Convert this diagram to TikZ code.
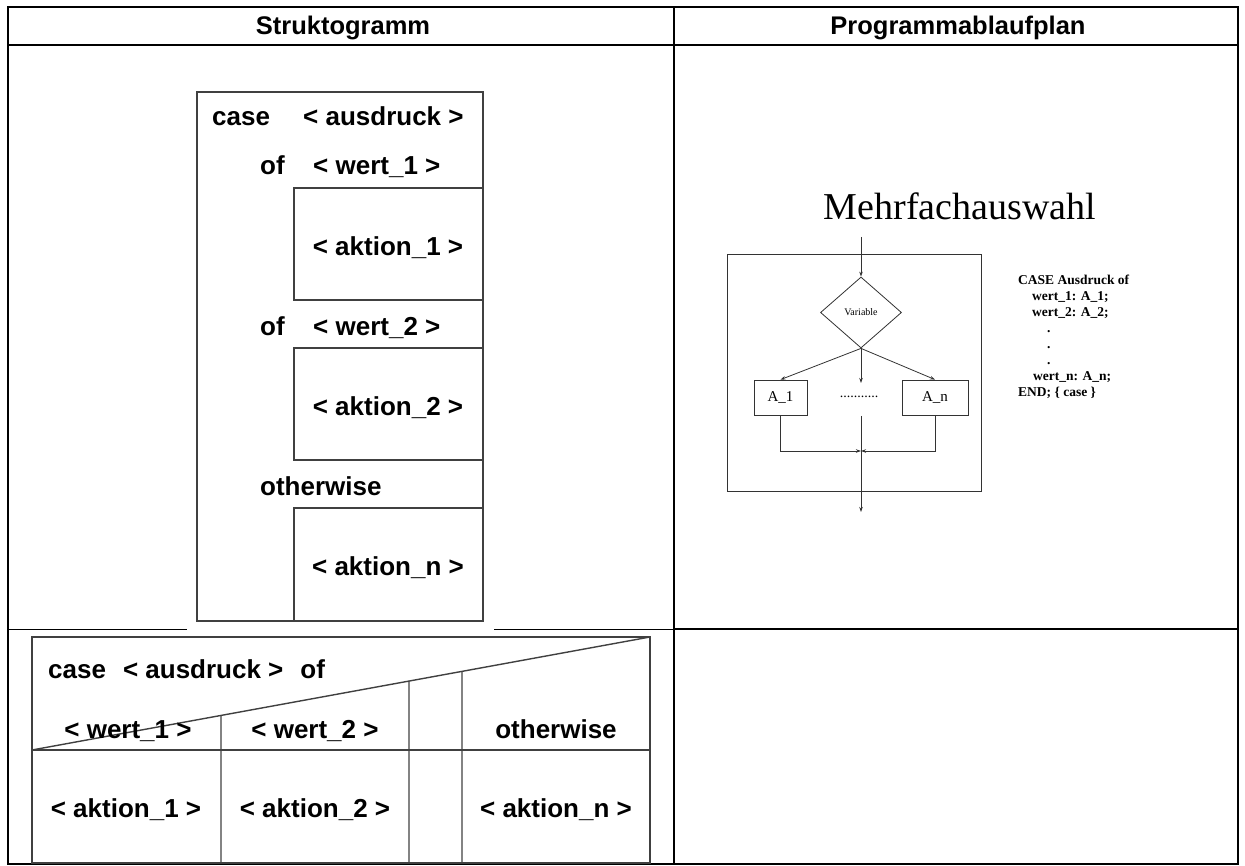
\documentclass[tikz,border=0pt]{standalone}
\usepackage{fontspec}
\setmainfont{Liberation Serif}
\newfontfamily\arialfont{Liberation Sans}
\usetikzlibrary{shapes.geometric,arrows.meta,calc}

\begin{document}
\begin{tikzpicture}[x=1pt,y=-1pt,
  tableline/.style={line width=2pt,line cap=rect},
  thinrule/.style={line width=1pt},
  nsbox/.style={line width=1.4pt,draw=black!75},
  nstext/.style={font=\arialfont\bfseries\fontsize{26}{30}\selectfont,inner sep=0pt},
  hdr/.style={font=\arialfont\bfseries\fontsize{25.5}{28}\selectfont,inner sep=0pt,anchor=base},
  papline/.style={draw=black!80,line width=0.8pt},
  arr/.style={-{Stealth[length=5pt,width=3.5pt]}},
  papbox/.style={draw=black!80,line width=0.8pt,rectangle,inner sep=0pt,
                 font=\fontsize{15}{17}\selectfont},
  codeline/.style={font=\bfseries\fontsize{13.5}{16}\selectfont,anchor=base west,inner sep=0pt}]
\useasboundingbox (0,0) rectangle (1245,866);

% ---------- table frame ----------
\draw[tableline] (7.5,7.5) rectangle (1238,864);
\draw[tableline] (7.5,45.5) -- (1238,45.5);
\draw[tableline] (674,7.5) -- (674,864);
\draw[thinrule] (7.5,629) -- (187,629);
\draw[thinrule] (494,629) -- (674,629);
\draw[tableline] (674,629) -- (1238,629);

\node[hdr] (h1) at (343,35) {Struktogramm};
\node[hdr] (h2) at (958,35) {Programmablaufplan};

% ---------- Struktogramm, vertical form ----------
\draw[nsbox] (197,92) rectangle (483,621);
\draw[nsbox] (294,188) rectangle (483,300);
\draw[nsbox] (294,348) rectangle (483,460);
\draw[nsbox] (294,508) rectangle (483,621);

\node[nstext,anchor=base west] (v1) at (212,126) {case};
\node[nstext,anchor=base west] (v2) at (303,126) {< ausdruck >};
\node[nstext,anchor=base west] (v3) at (260,175) {of};
\node[nstext,anchor=base west] (v4) at (313,175) {< wert\_1 >};
\node[nstext,anchor=base] (v5) at (388,256) {< aktion\_1 >};
\node[nstext,anchor=base west] (v6) at (260,336) {of};
\node[nstext,anchor=base west] (v7) at (313,336) {< wert\_2 >};
\node[nstext,anchor=base] (v8) at (388,416) {< aktion\_2 >};
\node[nstext,anchor=base west] (v9) at (260,495) {otherwise};
\node[nstext,anchor=base] (v10) at (388,575) {< aktion\_n >};

% ---------- Struktogramm, horizontal form ----------
\coordinate (dA) at (32,750);
\coordinate (dB) at (650,637);
\draw[nsbox] (32,637) rectangle (650,863);
\draw[nsbox] (32,750) -- (650,750);
\draw[nsbox] (dA) -- (dB);
\draw[nsbox] ($(dA)!0.3058!(dB)$) -- (221,863);
\draw[nsbox] ($(dA)!0.6100!(dB)$) -- (409,863);
\draw[nsbox] ($(dA)!0.6958!(dB)$) -- (462,863);

\node[nstext,anchor=base west] (w0) at (48,678) {case\hspace{17pt}< ausdruck >\hspace{17pt}of};
\node[nstext,anchor=base] (w1) at (128,738) {< wert\_1 >};
\node[nstext,anchor=base] (w2) at (315,738) {< wert\_2 >};
\node[nstext,anchor=base] (w3) at (556,738) {otherwise};
\node[nstext,anchor=base] (a1) at (126,817) {< aktion\_1 >};
\node[nstext,anchor=base] (a2) at (315,817) {< aktion\_2 >};
\node[nstext,anchor=base] (a3) at (556,817) {< aktion\_n >};

% ---------- Programmablaufplan ----------
\node[font=\fontsize{38}{42}\selectfont,anchor=base,inner sep=0pt] (title) at (960,220) {Mehrfachauswahl};

\draw[papline] (727,254) rectangle (981,491);

\coordinate (inA) at (861,237);
\node[diamond,draw=black!80,line width=0.8pt,minimum width=81pt,minimum height=71pt,
      aspect=1.14,inner sep=0pt,font=\fontsize{10}{12}\selectfont] (var) at (861,312.5) {Variable};
\node[papbox,minimum width=53pt,minimum height=35pt] (A1) at (780.5,397.5) {A\_1};
\node[papbox,minimum width=66pt,minimum height=35pt] (An) at (935,397.5) {A\_n};
\node[font=\fontsize{14}{16}\selectfont,inner sep=0pt] (dots) at (859,397) {...........};
\coordinate (midend) at (861,383);
\coordinate (midtop) at (861,416);
\coordinate (join) at (861,451);
\coordinate (outA) at (861,512);

\draw[papline,arr] (inA) -- (var.north);
\draw[papline,arr] (var.south) -- (A1.north);
\draw[papline,arr] (var.south) -- (midend);
\draw[papline,arr] (var.south) -- (An.north);
\draw[papline,arr] (A1.south) |- (join);
\draw[papline,arr] (An.south) |- (join);
\draw[papline,arr] (midtop) -- (outA);

\node[codeline] (c1) at (1018,285) {CASE Ausdruck of};
\node[codeline] (c2) at (1032,301) {wert\_1: A\_1;};
\node[codeline] (c3) at (1032,317) {wert\_2: A\_2;};
\node[codeline] (c4) at (1047,333) {.};
\node[codeline] (c5) at (1047,349) {.};
\node[codeline] (c6) at (1047,365) {.};
\node[codeline] (c7) at (1033,381) {wert\_n: A\_n;};
\node[codeline] (c8) at (1018,397) {END; \{ case \}};
\end{tikzpicture}
\end{document}
